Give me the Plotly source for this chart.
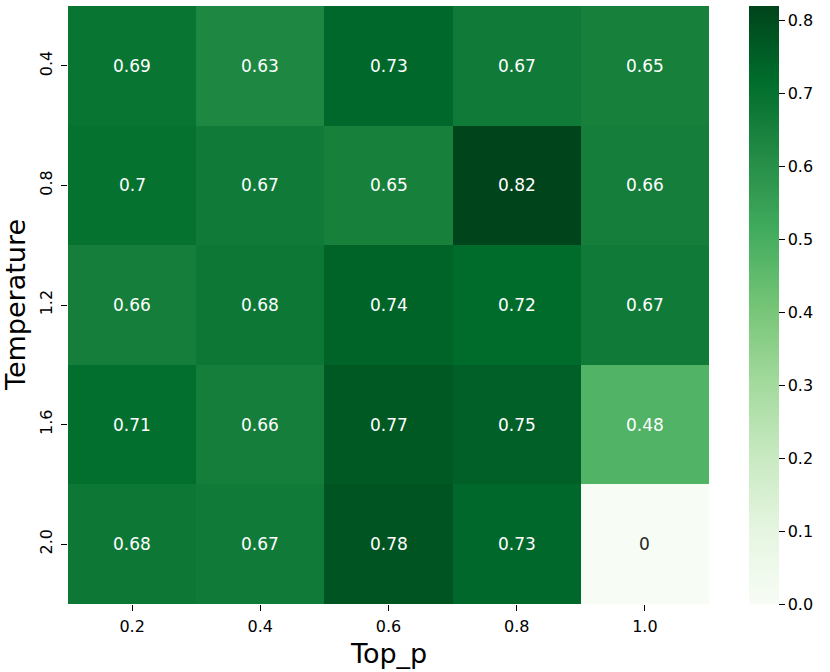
import plotly.graph_objects as go

top_p = ["0.2", "0.4", "0.6", "0.8", "1.0"]
temperature = ["0.4", "0.8", "1.2", "1.6", "2.0"]
values = [
    [0.69, 0.63, 0.73, 0.67, 0.65],
    [0.70, 0.67, 0.65, 0.82, 0.66],
    [0.66, 0.68, 0.74, 0.72, 0.67],
    [0.71, 0.66, 0.77, 0.75, 0.48],
    [0.68, 0.67, 0.78, 0.73, 0.00],
]
labels = [
    ["0.69", "0.63", "0.73", "0.67", "0.65"],
    ["0.7", "0.67", "0.65", "0.82", "0.66"],
    ["0.66", "0.68", "0.74", "0.72", "0.67"],
    ["0.71", "0.66", "0.77", "0.75", "0.48"],
    ["0.68", "0.67", "0.78", "0.73", "0"],
]
cbar_ticks = [0.0, 0.1, 0.2, 0.3, 0.4, 0.5, 0.6, 0.7, 0.8]

greens = ["#f7fcf5", "#e5f5e0", "#c7e9c0", "#a1d99b", "#74c476",
          "#41ab5d", "#238b45", "#006d2c", "#00441b"]
colorscale = [[i / (len(greens) - 1), c] for i, c in enumerate(greens)]

vmin, vmax = 0.0, 0.82
FONT = "DejaVu Sans"

fig = go.Figure()
fig.add_trace(go.Heatmap(
    z=values, x=top_p, y=temperature,
    colorscale=colorscale, zmin=vmin, zmax=vmax,
    colorbar=dict(
        x=1.0628, xanchor="left", y=0.5, yanchor="middle",
        len=1.0, lenmode="fraction", thickness=30, xpad=0, ypad=0,
        outlinewidth=0, ticks="outside", ticklen=6, tickwidth=1,
        tickcolor="black",
        tickvals=cbar_ticks,
        ticktext=[f"{t:.1f}" for t in cbar_ticks],
        tickfont=dict(family=FONT, size=16, color="black"),
    ),
    hoverinfo="skip",
))

for i, row in enumerate(values):
    for j, v in enumerate(row):
        color = "white" if v > 0.3 else "#262626"
        fig.add_annotation(x=j, y=i, xref="x", yref="y", text=labels[i][j],
                           showarrow=False,
                           font=dict(family=FONT, size=17, color=color))

# axis titles
fig.add_annotation(text="Top_p", xref="paper", yref="paper", x=0.5, y=0,
                   xanchor="center", yanchor="middle", yshift=-49,
                   showarrow=False, font=dict(family=FONT, size=27, color="black"))
fig.add_annotation(text="Temperature", xref="paper", yref="paper", x=0, y=0.5,
                   xanchor="center", yanchor="middle", xshift=-53, textangle=-90,
                   showarrow=False, font=dict(family=FONT, size=27, color="black"))

fig.update_layout(
    width=830, height=672,
    margin=dict(l=68, r=121, t=6, b=68, autoexpand=False),
    paper_bgcolor="white", plot_bgcolor="white",
    font=dict(family=FONT, color="black"),
    xaxis=dict(
        type="category", automargin=False,
        ticks="outside", ticklen=6, tickwidth=1, tickcolor="black",
        ticklabelstandoff=2,
        tickfont=dict(size=16), showgrid=False, zeroline=False,
        showline=False,
    ),
    yaxis=dict(
        type="category", automargin=False,
        autorange="reversed", ticks="outside", ticklen=6, tickwidth=1,
        tickcolor="black", tickangle=-90, tickfont=dict(size=16),
        ticklabelstandoff=3,
        showgrid=False, zeroline=False, showline=False,
    ),
)

fig.write_html("out.html", config={"displayModeBar": False},
               post_script="document.body.style.margin='0px';document.body.style.overflow='hidden';")
